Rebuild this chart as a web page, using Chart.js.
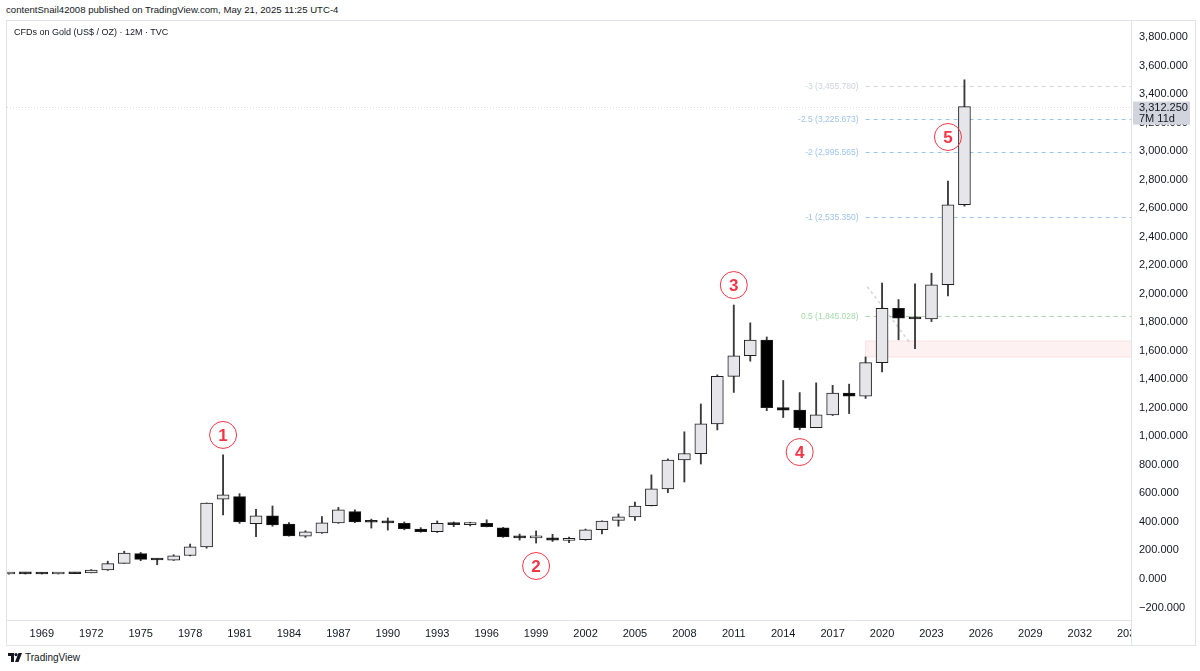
<!DOCTYPE html>
<html>
<head>
<meta charset="utf-8">
<title>CFDs on Gold (US$ / OZ) · 12M · TVC</title>
<script src="https://cdn.jsdelivr.net/npm/chart.js@4.4.1/dist/chart.umd.min.js"></script>
<style>
  html, body { margin: 0; padding: 0; background: #fff; width: 1200px; height: 671px; overflow: hidden;
    font-family: "Liberation Sans", Arial, sans-serif; color: #131722; }
  #byline { position: absolute; left: 6px; top: 4px; font-size: 9.6px; white-space: nowrap; }
  #frame { position: absolute; left: 6px; top: 20px; width: 1190px; height: 626px;
    border: 1px solid #e0e3eb; box-sizing: border-box; }
  #box { position: absolute; left: 0; top: 0; width: 1188px; height: 624px; }
  #symbol { position: absolute; left: 14px; top: 27px; font-size: 9px; white-space: nowrap; z-index: 2; }
  #brand { position: absolute; left: 8px; top: 652px; font-size: 10px; display: flex; align-items: center; gap: 3px; }
</style>
</head>
<body>
<div id="byline">contentSnail42008 published on TradingView.com, May 21, 2025 11:25 UTC-4</div>
<div id="frame"><div id="box"><canvas id="goldChart"></canvas></div></div>
<div id="symbol">CFDs on Gold (US$ / OZ) · 12M · TVC</div>
<div id="brand">
  <svg width="14" height="9" viewBox="0 0 14 9"><path d="M0 0h6v9H3V3H0z M7 9l3.5-9H14l-3.5 9z" fill="#131722"/><circle cx="8" cy="1.6" r="1.6" fill="#131722"/></svg>
  <span>TradingView</span>
</div>

<script>
// yearly candles
const years  = [1967,1968,1969,1970,1971,1972,1973,1974,1975,1976,1977,1978,1979,1980,1981,1982,1983,1984,1985,1986,
                1987,1988,1989,1990,1991,1992,1993,1994,1995,1996,1997,1998,1999,2000,2001,2002,2003,2004,2005,2006,
                2007,2008,2009,2010,2011,2012,2013,2014,2015,2016,2017,2018,2019,2020,2021,2022,2023,2024,2025];
const opens  = [35,38,37,35,38,43,63,110,178,134,132,165,225,560,578,388,442,385,300,323,
                393,472,402,397,390,350,332,392,381,390,358,290,288,288,271,276,345,410,436,514,
                632,834,878,1088,1421,1565,1675,1202,1184,1061,1151,1303,1282,1517,1898,1829,1824,2063,2624];
const highs  = [36,43,43,39,44,66,125,195,186,140,170,245,533,870,598,488,512,395,338,438,
                502,485,420,428,400,360,407,400,398,415,362,315,337,313,293,350,408,456,540,730,
                842,1032,1227,1431,1921,1796,1697,1392,1307,1375,1358,1366,1557,2075,1959,2070,2144,2790,3500];
const lows   = [34,35,35,35,37,43,60,110,128,100,130,162,216,450,390,297,370,300,292,320,
                390,395,357,343,345,328,326,367,372,365,292,273,252,263,255,272,316,370,410,512,
                605,680,806,1045,1308,1527,1180,1132,1046,1061,1146,1160,1266,1451,1677,1615,1805,1984,2614];
const closes = [35.5,36,35,36,37,63,108,182,138,133,162,225,533,590,400,443,380,302,330,393,
                485,400,398,393,352,332,391,381,388,367,295,288,290,272,276,344,406,436,512,632,
                834,880,1088,1421,1565,1675,1202,1184,1061,1151,1303,1282,1517,1898,1829,1824,2063,2624,3312.25];

const xTickYears  = [1969,1972,1975,1978,1981,1984,1987,1990,1993,1996,1999,2002,2005,2008,2011,2014,2017,2020,2023,2026,2029,2032,2035];
const yTickValues = [-200,0,200,400,600,800,1000,1200,1400,1600,1800,2000,2200,2400,2600,2800,3000,3200,3400,3600,3800];

// drawings on the chart
const fibRatios = [-3, -2.5, -2, -1, 0.5];
const fibPrices = [3455.780, 3225.673, 2995.565, 2535.350, 1845.028];
const fibStartYear = 2019;
const zoneTop = 1669, zoneBottom = 1556;
const waveNames  = ['1', '2', '3', '4', '5'];
const waveYears  = [1980, 1999, 2011, 2015, 2024];
const wavePrices = [1010, 91, 2061, 890, 3099];
const lastPrice = 3312.25;
const countdown = '7M 11d';

const fmt = v => (v < 0 ? '\u2212' : '') +
  Math.abs(v).toLocaleString('en-US', { minimumFractionDigits: 3, maximumFractionDigits: 3 });

const fibColors = ['#ccd4de', '#9fc4ee', '#9fc4ee', '#9fc4ee', '#a6d8a9'];

const drawings = {
  id: 'drawings',
  beforeDatasetsDraw(chart) {
    const { ctx, chartArea: a, scales: { x, y } } = chart;
    ctx.save();
    ctx.beginPath();
    ctx.rect(a.left, a.top, a.right - a.left, a.bottom - a.top);
    ctx.clip();

    // last price line
    const py = Math.round(y.getPixelForValue(lastPrice)) + 0.5;
    ctx.strokeStyle = 'rgba(150,155,170,0.35)';
    ctx.lineWidth = 1;
    ctx.setLineDash([1, 2]);
    ctx.beginPath(); ctx.moveTo(a.left, py); ctx.lineTo(a.right, py); ctx.stroke();

    // pink zone
    const zx = x.getPixelForValue(fibStartYear);
    const zt = y.getPixelForValue(zoneTop), zb = y.getPixelForValue(zoneBottom);
    ctx.setLineDash([]);
    ctx.fillStyle = 'rgba(242,54,69,0.07)';
    ctx.fillRect(zx, zt, a.right - zx, zb - zt);
    ctx.strokeStyle = 'rgba(242,54,69,0.12)';
    ctx.strokeRect(zx, zt, a.right - zx + 2, zb - zt);

    // fib levels
    ctx.font = '8.5px "Liberation Sans", Arial, sans-serif';
    ctx.textAlign = 'right';
    ctx.textBaseline = 'middle';
    fibPrices.forEach((p, i) => {
      const fy = Math.round(y.getPixelForValue(p)) + 0.5;
      ctx.strokeStyle = fibColors[i];
      ctx.setLineDash([4, 4]);
      ctx.beginPath(); ctx.moveTo(zx, fy); ctx.lineTo(a.right, fy); ctx.stroke();
      ctx.fillStyle = fibColors[i];
      ctx.fillText(fibRatios[i] + ' (' + fmt(p) + ')', zx - 7, fy);
    });

    // dotted trend line
    ctx.strokeStyle = 'rgba(160,163,175,0.45)';
    ctx.lineWidth = 1.5;
    ctx.setLineDash([3, 3]);
    ctx.beginPath();
    ctx.moveTo(x.getPixelForValue(2019.1), y.getPixelForValue(2050));
    ctx.lineTo(x.getPixelForValue(2021.7), y.getPixelForValue(1655));
    ctx.stroke();
    ctx.restore();
  },
  afterDatasetsDraw(chart) {
    const { ctx, scales: { x, y } } = chart;
    ctx.save();
    ctx.strokeStyle = '#f23645';
    ctx.fillStyle = '#f23645';
    ctx.lineWidth = 1;
    ctx.font = 'bold 17px "Liberation Sans", Arial, sans-serif';
    ctx.textAlign = 'center';
    ctx.textBaseline = 'middle';
    waveNames.forEach((n, i) => {
      const cx = x.getPixelForValue(waveYears[i]), cy = y.getPixelForValue(wavePrices[i]);
      ctx.beginPath(); ctx.arc(cx, cy, 13.5, 0, Math.PI * 2); ctx.stroke();
      ctx.fillText(n, cx, cy + 1);
    });
    ctx.restore();
  },
  afterDraw(chart) {
    const { ctx, chartArea: a, scales: { y } } = chart;
    ctx.save();
    // corner below the price axis hides the cut year label
    ctx.fillStyle = '#fff';
    ctx.fillRect(a.right + 1, a.bottom + 1, chart.width - a.right, chart.height - a.bottom);
    ctx.strokeStyle = '#e0e3eb';
    ctx.beginPath(); ctx.moveTo(a.right + 0.5, a.bottom); ctx.lineTo(a.right + 0.5, chart.height); ctx.stroke();
    // last price tag
    const py = y.getPixelForValue(lastPrice);
    ctx.fillStyle = '#d1d4dc';
    ctx.fillRect(a.right + 2, py - 5, 57, 23);
    ctx.fillStyle = '#131722';
    ctx.font = '11px "Liberation Sans", Arial, sans-serif';
    ctx.textAlign = 'left';
    ctx.textBaseline = 'middle';
    ctx.fillText(fmt(lastPrice), a.right + 8, py + 1);
    ctx.fillText(countdown, a.right + 8, py + 12);
    ctx.restore();
  }
};

// no extra room for edge labels: the plot runs to the frame
const noPad = s => { s.paddingTop = 0; s.paddingBottom = 0; s.paddingLeft = 0; s.paddingRight = 0; };

const bodyColors = years.map((_, i) => closes[i] < opens[i] ? '#000000' : '#e6e6ea');

new Chart(document.getElementById('goldChart'), {
  type: 'bar',
  data: {
    datasets: [
      {
        label: 'Body',
        data: years.map((yr, i) => ({ x: yr, y: [opens[i], closes[i]] })),
        backgroundColor: bodyColors,
        borderColor: '#1e1e1e',
        borderWidth: 1,
        borderSkipped: false,
        barThickness: 12,
        minBarLength: 2,
        grouped: false,
        order: 0
      },
      {
        label: 'Wick',
        data: years.map((yr, i) => ({ x: yr, y: [lows[i], highs[i]] })),
        backgroundColor: '#3a3a3a',
        borderWidth: 0,
        barThickness: 1.2,
        grouped: false,
        order: 1
      }
    ]
  },
  options: {
    responsive: true,
    maintainAspectRatio: false,
    animation: false,
    layout: { padding: 0 },
    plugins: { legend: { display: false }, tooltip: { enabled: false } },
    scales: {
      x: {
        type: 'linear',
        offset: false,
        min: 1966.885,
        max: 2035.11,
        grid: { display: false, drawTicks: false },
        border: { display: true, color: '#e0e3eb' },
        afterBuildTicks: s => { s.ticks = xTickYears.map(v => ({ value: v })); },
        afterFit: s => { s.height = 25; noPad(s); },
        ticks: {
          autoSkip: false, maxRotation: 0, padding: 7, color: '#131722',
          font: { size: 11, family: '"Liberation Sans", Arial, sans-serif' },
          callback: v => String(v)
        }
      },
      y: {
        position: 'right',
        min: -287.5,
        max: 3912.2,
        grid: { display: false, drawTicks: false },
        border: { display: true, color: '#e0e3eb' },
        afterBuildTicks: s => { s.ticks = yTickValues.map(v => ({ value: v })); },
        afterFit: s => { s.width = 64; noPad(s); },
        ticks: {
          padding: 8, color: '#131722',
          font: { size: 11, family: '"Liberation Sans", Arial, sans-serif' },
          callback: v => fmt(v)
        }
      }
    }
  },
  plugins: [drawings]
});
</script>
</body>
</html>
